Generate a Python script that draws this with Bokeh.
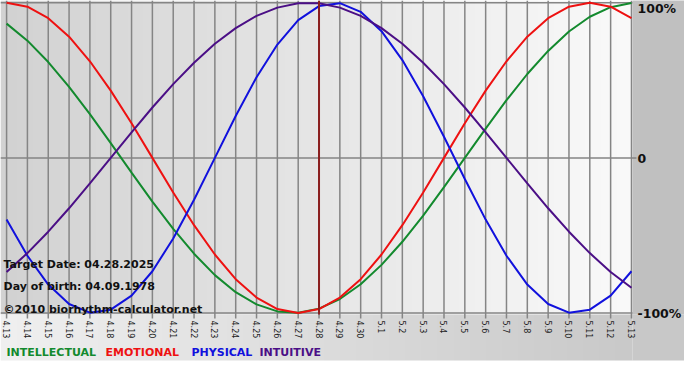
import math
import numpy as np
from bokeh.plotting import figure
from bokeh.models import Range1d
from bokeh.core.properties import value
from bokeh.embed import file_html
from bokeh.resources import INLINE

# ---- data ----
day_labels = ["4.13", "4.14", "4.15", "4.16", "4.17", "4.18", "4.19", "4.20", "4.21", "4.22",
              "4.23", "4.24", "4.25", "4.26", "4.27", "4.28", "4.29", "4.30", "5.1", "5.2",
              "5.3", "5.4", "5.5", "5.6", "5.7", "5.8", "5.9", "5.10", "5.11", "5.12", "5.13"]
day_index = list(range(len(day_labels)))
target_index = 15  # 4.28

intellectual = [0.866, 0.756, 0.618, 0.458, 0.282, 0.095, -0.095, -0.282, -0.458, -0.618,
                -0.756, -0.866, -0.945, -0.990, -0.999, -0.972, -0.910, -0.815, -0.690, -0.541,
                -0.372, -0.189, 0.0, 0.189, 0.372, 0.541, 0.690, 0.815, 0.910, 0.972, 0.999]
emotional = [1.000, 0.975, 0.901, 0.782, 0.623, 0.434, 0.223, 0.0, -0.223, -0.434,
             -0.623, -0.782, -0.901, -0.975, -1.000, -0.975, -0.901, -0.782, -0.623, -0.434,
             -0.223, 0.0, 0.223, 0.434, 0.623, 0.782, 0.901, 0.975, 1.000, 0.975, 0.901]
physical = [-0.398, -0.631, -0.817, -0.942, -0.998, -0.979, -0.888, -0.731, -0.520, -0.270,
            0.0, 0.270, 0.520, 0.731, 0.888, 0.979, 0.998, 0.942, 0.817, 0.631,
            0.398, 0.136, -0.136, -0.398, -0.631, -0.817, -0.942, -0.998, -0.979, -0.888, -0.731]
intuitive = [-0.736, -0.614, -0.476, -0.325, -0.165, 0.0, 0.165, 0.325, 0.476, 0.614,
             0.736, 0.837, 0.916, 0.969, 0.997, 0.997, 0.969, 0.916, 0.837, 0.736,
             0.614, 0.476, 0.325, 0.165, 0.0, -0.165, -0.325, -0.476, -0.614, -0.736, -0.837]

series_names = ["INTELLECTUAL", "EMOTIONAL", "PHYSICAL", "INTUITIVE"]
series_values = [intellectual, emotional, physical, intuitive]
series_colors = ["#138a2e", "#ee1111", "#1111dd", "#4b0f86"]

info_lines = ["Target Date: 04.28.2025", "Day of birth: 04.09.1978", "\u00a92010 biorhythm-calculator.net"]
pct_values = [1, 0, -1]
pct_labels = ["100%", "0", "-100%"]

FONT = value("DejaVu Sans")
W, H = 684, 364          # canvas
LPAD = 4                 # px of plot background left of the first day
PW, PH = 628, 314        # plot area in pixels
X0, X1 = -0.1, 30.05     # plot area in data units
Y0, Y1 = -1.01, 1.015
KX = PW / (X1 - X0)
KY = PH / (Y1 - Y0)
XLEFT = X0 - LPAD / KX
XMAX = XLEFT + W / KX
YMIN = Y1 - H / KY

p = figure(width=W, height=H, x_range=Range1d(XLEFT, XMAX), y_range=Range1d(YMIN, Y1),
           output_backend="svg", toolbar_location=None,
           x_axis_location=None, y_axis_location=None,
           min_border=0, min_border_left=0, min_border_right=0, min_border_top=0, min_border_bottom=0,
           border_fill_color="white", outline_line_color=None, background_fill_color="white")
p.xgrid.visible = False
p.ygrid.visible = False


def gray_gradient(n, a, b):
    img = np.empty((1, n), dtype=np.uint32)
    v = img.view(dtype=np.uint8).reshape((1, n, 4))
    g = np.linspace(a, b, n).astype(np.uint8)
    v[0, :, 0] = g
    v[0, :, 1] = g
    v[0, :, 2] = g
    v[0, :, 3] = 255
    return img


# plot-area gradient
p.image_rgba(image=[gray_gradient(PW + LPAD, 0xd2, 0xfa)], x=XLEFT, y=Y0, dw=X1 - XLEFT, dh=Y1 - Y0)
# bottom strip gradient
strip_bottom = Y0 - 46 / KY
p.image_rgba(image=[gray_gradient(PW + LPAD, 0xf0, 0xc9)], x=XLEFT, y=strip_bottom,
             dw=X1 - XLEFT, dh=Y0 - strip_bottom)
p.quad(left=[X1], right=[XMAX + 1], bottom=[strip_bottom], top=[Y0], fill_color="#c8c8c8", line_color=None)
p.quad(left=[X1], right=[XMAX + 1], bottom=[Y0], top=[Y1 + 1], fill_color="#c0c0c0", line_color=None)

# vertical grid lines + ticks
tick_len = 4 / KY
p.segment(x0=day_index, y0=[Y0 - tick_len] * len(day_index), x1=day_index, y1=[Y1] * len(day_index),
          line_color="#858585", line_width=1.5)
# horizontal grid lines
p.segment(x0=[XLEFT] * 3, y0=pct_values, x1=[X1, X1 + 4 / KX, X1], y1=pct_values,
          line_color="#858585", line_width=1.5)

# curves
for vals, col in zip(series_values, series_colors):
    p.line(day_index, vals, line_color=col, line_width=2)

# target date line
p.segment(x0=[target_index], y0=[Y0], x1=[target_index], y1=[Y1], line_color="#8a1e1e", line_width=2)

# day labels (rotated)
p.text(x=day_index, y=[Y0 - 6 / KY] * len(day_index), text=day_labels, angle=-math.pi / 2,
       text_font=FONT, text_font_size="8px", text_color="#222222",
       text_align="left", text_baseline="middle")

# info texts
p.text(x=[XLEFT + 3 / KX] * 3, y=[-0.69, -0.83, -0.98], text=info_lines,
       text_font=FONT, text_font_style="bold", text_font_size="11px", text_color="#111111",
       text_baseline="middle", text_align="left")

# right percentage labels
p.text(x=[X1 + 5 / KX] * 3, y=[0.962, -0.005, -1.005], text=pct_labels,
       text_font=FONT, text_font_style="bold", text_font_size="12.5px", text_color="#111111",
       text_baseline="middle", text_align="left")

# legend
for name, col, sx in zip(series_names, series_colors, [6, 105, 191, 259]):
    p.text(x=[XLEFT + sx / KX], y=[Y0 - 38 / KY], text=[name],
           text_font=FONT, text_font_style="bold", text_font_size="11px", text_color=col,
           text_baseline="middle", text_align="left")

open("out.html", "w").write(file_html(p, INLINE))
